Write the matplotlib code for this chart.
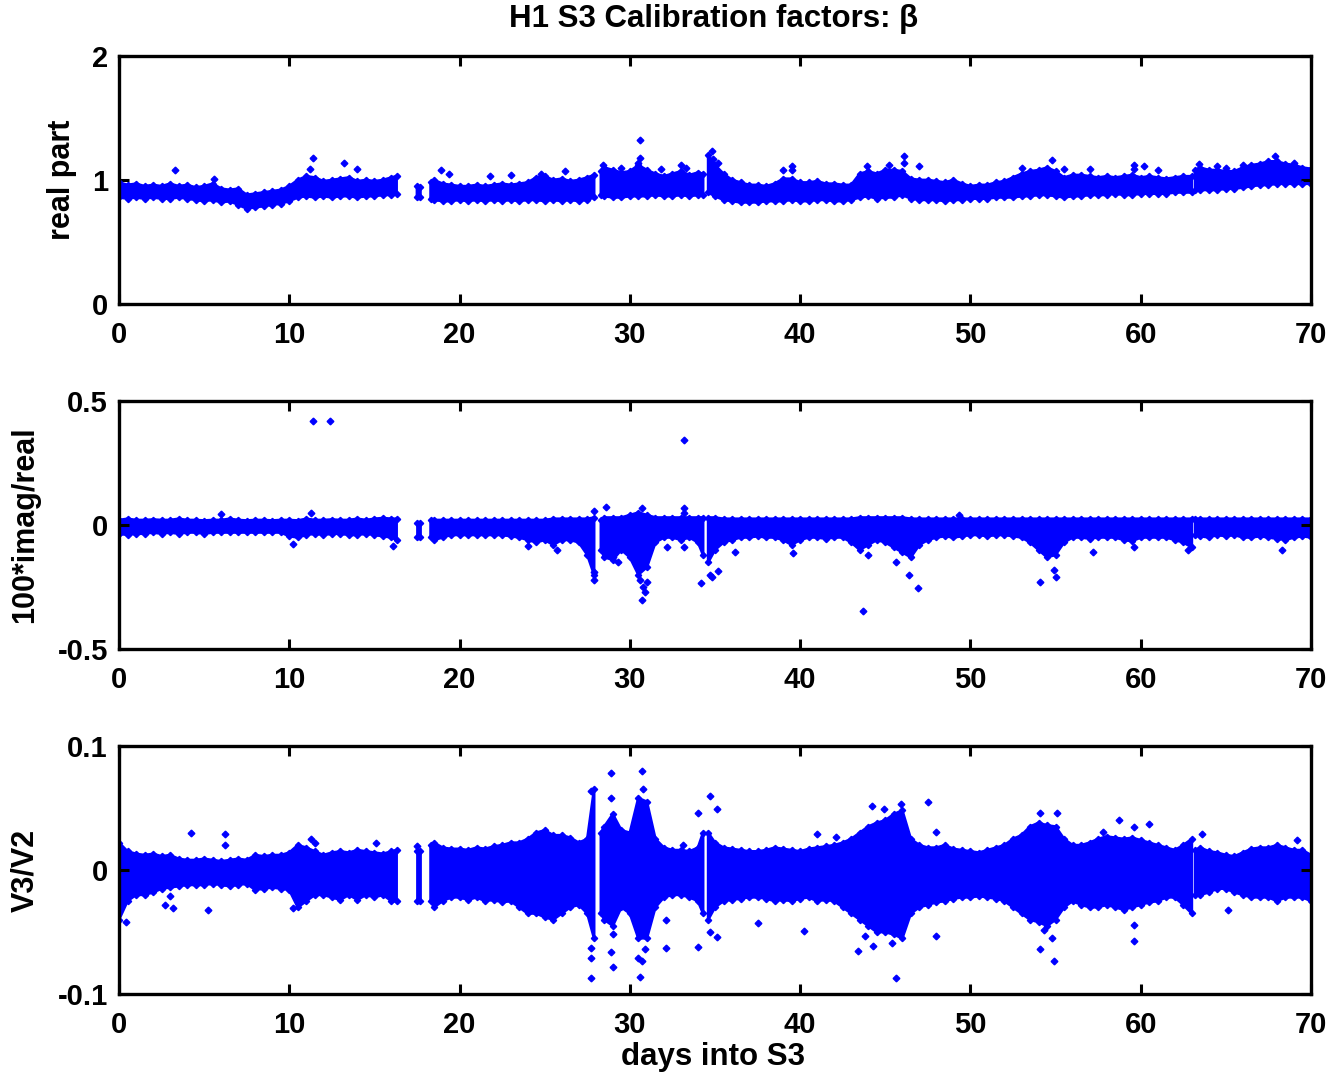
import numpy as np
import matplotlib
matplotlib.use("Agg")
import matplotlib.pyplot as plt

plt.rcParams['font.family'] = ['Liberation Sans', 'DejaVu Sans']

nan = np.nan
# sampling days of the band envelopes (nan = gap in the data)
days = [0, 0.5, 1, 1.5, 2, 2.5, 3, 3.5, 4, 4.5, 5, 5.5, 6, 6.5, 7, 7.5, 8, 8.5, 9, 9.5,
        10, 10.5, 11, 11.5, 12, 12.5, 13, 13.5, 14, 14.5, 15, 15.5, 16, 16.3, nan,
        17.5, 17.7, nan,
        18.3, 18.5, 19, 19.5, 20, 20.5, 21, 21.5, 22, 22.5, 23, 23.5, 24, 24.5, 25, 25.5,
        26, 26.5, 27, 27.5, 27.9, nan,
        28.3, 28.5, 29, 29.5, 30, 30.5, 31, 31.5, 32, 32.5, 33, 33.5, 34, 34.3, nan,
        34.6, 35, 35.5, 36, 36.5, 37, 37.5, 38, 38.5, 39, 39.5, 40, 40.5, 41, 41.5, 42,
        42.5, 43, 43.5, 44, 44.5, 45, 45.5, 46, 46.5, 47, 47.5, 48, 48.5, 49, 49.5, 50,
        50.5, 51, 51.5, 52, 52.5, 53, 53.5, 54, 54.5, 55, 55.5, 56, 56.5, 57, 57.5, 58,
        58.5, 59, 59.5, 60, 60.5, 61, 61.5, 62, 62.5, 63, nan,
        63.2, 63.5, 64, 64.5, 65, 65.5, 66, 66.5, 67, 67.5, 68, 68.5, 69, 69.5, 70]

# ---- real part: upper / lower envelope of the dense point cloud
real_top = [0.98, 0.96, 0.97, 0.95, 0.96, 0.95, 0.97, 0.95, 0.96, 0.94, 0.95, 0.97, 0.93, 0.92, 0.93, 0.88, 0.89, 0.90, 0.91, 0.92,
            0.95, 1.00, 1.03, 1.02, 0.99, 1.00, 1.01, 1.02, 0.99, 1.00, 0.99, 1.00, 1.02, 1.03, nan,
            0.95, 0.94, nan,
            0.98, 1.00, 0.97, 0.96, 0.95, 0.95, 0.96, 0.95, 0.96, 0.97, 0.96, 0.97, 0.98, 1.02, 1.03, 1.00,
            1.01, 0.99, 1.00, 1.02, 1.04, nan,
            1.07, 1.10, 1.08, 1.06, 1.07, 1.12, 1.08, 1.05, 1.03, 1.05, 1.07, 1.04, 1.06, 1.05, nan,
            1.20, 1.12, 1.05, 1.00, 0.98, 0.96, 0.96, 0.95, 0.97, 1.01, 1.01, 0.98, 0.98, 0.99, 0.97, 0.97,
            0.96, 0.96, 1.05, 1.07, 1.05, 1.08, 1.08, 1.07, 1.01, 1.00, 1.00, 0.99, 0.98, 1.00, 0.97, 0.95,
            0.96, 0.96, 0.98, 0.99, 1.02, 1.05, 1.07, 1.08, 1.10, 1.07, 1.02, 1.04, 1.04, 1.03, 1.02, 1.03,
            1.02, 1.03, 1.04, 1.02, 1.03, 1.02, 1.01, 1.02, 1.03, 1.03, nan,
            1.08, 1.10, 1.08, 1.08, 1.07, 1.07, 1.10, 1.12, 1.13, 1.15, 1.15, 1.13, 1.12, 1.10, 1.09]
real_bot = [0.86, 0.85, 0.86, 0.85, 0.86, 0.85, 0.85, 0.86, 0.85, 0.84, 0.83, 0.84, 0.82, 0.83, 0.80, 0.77, 0.78, 0.79, 0.80, 0.81,
            0.83, 0.86, 0.87, 0.86, 0.87, 0.86, 0.87, 0.87, 0.86, 0.87, 0.87, 0.88, 0.88, 0.89, nan,
            0.86, 0.86, nan,
            0.85, 0.84, 0.83, 0.83, 0.84, 0.83, 0.84, 0.83, 0.84, 0.83, 0.84, 0.83, 0.84, 0.84, 0.83, 0.84,
            0.83, 0.84, 0.83, 0.84, 0.86, nan,
            0.88, 0.87, 0.86, 0.86, 0.87, 0.87, 0.87, 0.88, 0.87, 0.87, 0.88, 0.87, 0.88, 0.88, nan,
            0.90, 0.87, 0.84, 0.83, 0.82, 0.82, 0.82, 0.83, 0.83, 0.83, 0.84, 0.83, 0.83, 0.84, 0.84, 0.83,
            0.83, 0.84, 0.86, 0.87, 0.85, 0.86, 0.86, 0.88, 0.85, 0.84, 0.84, 0.84, 0.83, 0.84, 0.84, 0.85,
            0.85, 0.85, 0.86, 0.86, 0.86, 0.87, 0.87, 0.88, 0.88, 0.87, 0.86, 0.87, 0.87, 0.88, 0.88, 0.88,
            0.89, 0.88, 0.88, 0.89, 0.89, 0.89, 0.89, 0.90, 0.90, 0.90, nan,
            0.92, 0.92, 0.92, 0.92, 0.93, 0.93, 0.94, 0.95, 0.96, 0.96, 0.97, 0.97, 0.97, 0.97, 0.97]
real_out_day = [3.3, 5.6, 11.2, 11.4, 13.2, 14.0, 18.9, 19.4, 21.8, 23.0, 24.8, 26.2, 28.4, 29.5, 30.5,
                30.6, 30.6, 31.8, 33.0, 33.3, 34.8, 34.9, 35.2, 39.0, 39.5, 39.5, 43.9, 45.2, 46.1,
                46.1, 47.0, 53.0, 54.8, 55.5, 57.0, 59.6, 59.6, 60.2, 61.0, 63.4, 64.5, 65.0, 66.0,
                67.9, 69.0]
real_out_val = [1.08, 1.01, 1.09, 1.18, 1.14, 1.09, 1.08, 1.05, 1.03, 1.04, 1.05, 1.07, 1.12, 1.10, 1.14,
                1.32, 1.18, 1.09, 1.12, 1.10, 1.23, 1.17, 1.14, 1.08, 1.11, 1.08, 1.11, 1.12, 1.19,
                1.14, 1.11, 1.10, 1.16, 1.09, 1.09, 1.12, 1.09, 1.11, 1.08, 1.13, 1.11, 1.10, 1.12,
                1.19, 1.14]

# ---- 100*imag/real
imag_top = [0.020, 0.025, 0.020, 0.020, 0.022, 0.020, 0.020, 0.025, 0.020, 0.020, 0.018, 0.020, 0.020, 0.025, 0.020, 0.018, 0.020, 0.020, 0.018, 0.020,
            0.020, 0.018, 0.025, 0.020, 0.020, 0.022, 0.020, 0.020, 0.025, 0.020, 0.025, 0.028, 0.025, 0.025, nan,
            0.010, 0.010, nan,
            0.020, 0.020, 0.020, 0.020, 0.020, 0.020, 0.020, 0.020, 0.020, 0.020, 0.020, 0.020, 0.020, 0.020, 0.020, 0.025,
            0.025, 0.025, 0.025, 0.025, 0.030, nan,
            0.020, 0.030, 0.030, 0.030, 0.040, 0.050, 0.040, 0.030, 0.030, 0.030, 0.030, 0.030, 0.030, 0.030, nan,
            0.030, 0.030, 0.025, 0.025, 0.025, 0.025, 0.025, 0.025, 0.025, 0.025, 0.025, 0.025, 0.025, 0.025, 0.025, 0.025,
            0.025, 0.025, 0.030, 0.030, 0.030, 0.030, 0.030, 0.030, 0.025, 0.025, 0.025, 0.025, 0.025, 0.025, 0.025, 0.025,
            0.025, 0.025, 0.025, 0.025, 0.025, 0.025, 0.025, 0.025, 0.025, 0.025, 0.025, 0.025, 0.025, 0.025, 0.025, 0.025,
            0.025, 0.025, 0.025, 0.025, 0.025, 0.025, 0.025, 0.025, 0.025, 0.025, nan,
            0.025, 0.025, 0.025, 0.025, 0.025, 0.025, 0.025, 0.025, 0.025, 0.025, 0.025, 0.025, 0.025, 0.025, 0.025]
imag_bot = [-0.035, -0.040, -0.035, -0.035, -0.030, -0.035, -0.030, -0.035, -0.030, -0.030, -0.035, -0.030, -0.030, -0.030, -0.030, -0.030, -0.030, -0.030, -0.030, -0.030,
            -0.045, -0.050, -0.040, -0.035, -0.040, -0.035, -0.035, -0.040, -0.040, -0.035, -0.040, -0.045, -0.050, -0.060, nan,
            -0.050, -0.050, nan,
            -0.050, -0.060, -0.050, -0.040, -0.040, -0.040, -0.040, -0.040, -0.040, -0.040, -0.045, -0.050, -0.060, -0.070, -0.060, -0.080,
            -0.060, -0.060, -0.070, -0.120, -0.200, nan,
            -0.100, -0.130, -0.140, -0.100, -0.130, -0.200, -0.170, -0.070, -0.050, -0.050, -0.060, -0.050, -0.070, -0.120, nan,
            -0.150, -0.100, -0.070, -0.060, -0.050, -0.050, -0.045, -0.050, -0.050, -0.060, -0.080, -0.060, -0.050, -0.050, -0.055, -0.050,
            -0.050, -0.070, -0.100, -0.080, -0.060, -0.070, -0.090, -0.110, -0.130, -0.080, -0.060, -0.050, -0.045, -0.050, -0.045, -0.040,
            -0.040, -0.045, -0.040, -0.040, -0.045, -0.050, -0.070, -0.100, -0.130, -0.120, -0.070, -0.050, -0.050, -0.055, -0.050, -0.050,
            -0.050, -0.060, -0.065, -0.050, -0.050, -0.050, -0.050, -0.060, -0.070, -0.090, nan,
            -0.040, -0.045, -0.050, -0.040, -0.045, -0.040, -0.050, -0.050, -0.045, -0.050, -0.055, -0.060, -0.050, -0.045, -0.050]
imag_out_day = [11.4, 12.4, 33.2, 43.7, 46.9, 46.4, 45.6, 54.1, 55.0, 54.9, 57.2, 59.6, 34.2, 34.8, 35.2,
                34.7, 30.7, 30.9, 30.8, 31.0, 30.6, 27.9, 27.9, 27.9, 28.6, 30.7, 33.2, 33.2, 49.3,
                6.0, 11.3, 10.2, 16.1, 24.0, 25.7, 29.3, 29.0, 32.2, 33.2, 39.6, 44.0, 36.2, 68.3, 62.8]
imag_out_val = [0.42, 0.42, 0.343, -0.347, -0.255, -0.20, -0.15, -0.23, -0.21, -0.18, -0.11, -0.09, -0.232, -0.21, -0.185,
                -0.20, -0.302, -0.27, -0.25, -0.23, -0.22, -0.19, -0.22, 0.056, 0.073, 0.069, 0.07, 0.05, 0.04,
                0.045, 0.05, -0.075, -0.085, -0.085, -0.10, -0.15, -0.13, -0.09, -0.09, -0.113, -0.12, -0.11, -0.10, -0.10]

# ---- V3/V2
v32_top = [0.022, 0.015, 0.013, 0.012, 0.013, 0.011, 0.012, 0.009, 0.008, 0.008, 0.009, 0.008, 0.007, 0.008, 0.009, 0.008, 0.012, 0.011, 0.012, 0.012,
           0.014, 0.020, 0.018, 0.015, 0.012, 0.014, 0.015, 0.014, 0.016, 0.015, 0.014, 0.013, 0.015, 0.016, nan,
           0.015, 0.015, nan,
           0.020, 0.022, 0.018, 0.017, 0.017, 0.016, 0.018, 0.017, 0.019, 0.020, 0.022, 0.022, 0.025, 0.030, 0.032, 0.028,
           0.028, 0.026, 0.022, 0.025, 0.065, nan,
           0.030, 0.035, 0.045, 0.032, 0.030, 0.058, 0.055, 0.025, 0.018, 0.016, 0.016, 0.015, 0.018, 0.030, nan,
           0.030, 0.022, 0.018, 0.017, 0.016, 0.015, 0.015, 0.016, 0.018, 0.017, 0.016, 0.015, 0.017, 0.018, 0.019, 0.020,
           0.022, 0.025, 0.030, 0.035, 0.038, 0.040, 0.045, 0.048, 0.025, 0.020, 0.018, 0.018, 0.020, 0.017, 0.016, 0.015,
           0.014, 0.016, 0.018, 0.020, 0.025, 0.028, 0.035, 0.038, 0.036, 0.035, 0.025, 0.020, 0.020, 0.022, 0.025, 0.027,
           0.026, 0.025, 0.026, 0.024, 0.022, 0.020, 0.018, 0.016, 0.020, 0.025, nan,
           0.016, 0.018, 0.015, 0.014, 0.012, 0.011, 0.014, 0.017, 0.018, 0.018, 0.020, 0.018, 0.016, 0.016, 0.012]
v32_bot = [-0.040, -0.025, -0.020, -0.020, -0.018, -0.015, -0.014, -0.013, -0.012, -0.012, -0.012, -0.011, -0.012, -0.013, -0.012, -0.011, -0.016, -0.015, -0.014, -0.015,
           -0.016, -0.030, -0.025, -0.020, -0.020, -0.022, -0.024, -0.020, -0.024, -0.020, -0.022, -0.020, -0.025, -0.025, nan,
           -0.025, -0.025, nan,
           -0.025, -0.030, -0.025, -0.022, -0.022, -0.024, -0.022, -0.025, -0.024, -0.026, -0.025, -0.030, -0.035, -0.035, -0.038, -0.040,
           -0.035, -0.030, -0.028, -0.035, -0.055, nan,
           -0.035, -0.040, -0.045, -0.030, -0.035, -0.055, -0.055, -0.030, -0.022, -0.020, -0.020, -0.022, -0.025, -0.035, nan,
           -0.040, -0.030, -0.025, -0.024, -0.023, -0.022, -0.022, -0.023, -0.025, -0.024, -0.025, -0.023, -0.022, -0.025, -0.024, -0.025,
           -0.030, -0.035, -0.040, -0.045, -0.050, -0.050, -0.052, -0.055, -0.035, -0.030, -0.028, -0.026, -0.025, -0.023, -0.022, -0.022,
           -0.021, -0.022, -0.023, -0.025, -0.030, -0.035, -0.040, -0.042, -0.045, -0.040, -0.030, -0.025, -0.028, -0.030, -0.030, -0.028,
           -0.030, -0.032, -0.030, -0.028, -0.026, -0.025, -0.022, -0.022, -0.028, -0.035, nan,
           -0.020, -0.020, -0.018, -0.015, -0.015, -0.018, -0.020, -0.022, -0.022, -0.022, -0.025, -0.022, -0.022, -0.022, -0.025]
v32_out_day = [4.2, 6.2, 6.2, 2.7, 3.0, 3.2, 5.2, 0.4, 10.2, 11.3, 11.5, 15.1, 17.5,
               27.7, 27.7, 27.7, 27.7, 28.9, 28.9, 29.0, 28.9, 29.0, 30.7, 30.8, 30.6, 30.7, 30.5, 30.9,
               32.1, 32.1, 33.1, 34.0, 34.0, 34.7, 35.1, 35.1, 34.7, 37.5, 40.2, 41.0, 42.1,
               44.2, 44.9, 45.9, 47.5, 45.6, 43.4, 44.3, 43.8, 45.4, 45.8, 48.0, 48.0,
               54.1, 55.1, 54.1, 54.9, 54.3, 54.8, 58.7, 59.6, 60.5, 59.6, 59.6, 57.8, 63.6, 69.2, 65.1]
v32_out_val = [0.030, 0.029, 0.020, -0.028, -0.021, -0.031, -0.032, -0.042, -0.031, 0.025, 0.022, 0.022, 0.019,
               0.064, -0.087, -0.063, -0.071, 0.078, 0.058, -0.078, -0.066, -0.052, 0.080, 0.065, -0.086, -0.073, -0.071, -0.064,
               -0.063, -0.040, 0.020, -0.062, 0.046, 0.060, 0.049, -0.054, -0.050, -0.043, -0.049, 0.029, 0.027,
               0.052, 0.049, 0.053, 0.055, -0.087, -0.065, -0.061, -0.053, -0.059, -0.052, -0.053, 0.031,
               0.046, 0.046, -0.064, -0.073, -0.048, -0.055, 0.040, 0.035, 0.037, -0.044, -0.057, 0.031, 0.029, 0.024, -0.032]

panels = [
    dict(top=real_top, bot=real_bot, od=real_out_day, ov=real_out_val,
         ylim=(0, 2), yticks=[0, 1, 2], yticklabels=['0', '1', '2'], label='real part'),
    dict(top=imag_top, bot=imag_bot, od=imag_out_day, ov=imag_out_val,
         ylim=(-0.5, 0.5), yticks=[-0.5, 0, 0.5], yticklabels=['-0.5', '0', '0.5'], label='100*imag/real'),
    dict(top=v32_top, bot=v32_bot, od=v32_out_day, ov=v32_out_val,
         ylim=(-0.1, 0.1), yticks=[-0.1, 0, 0.1], yticklabels=['-0.1', '0', '0.1'], label='V3/V2'),
]

W, H = 1334, 1078
fig = plt.figure(figsize=(W / 100, H / 100), dpi=100)
left, right = 119 / W, 1311 / W
tops_px = [56, 401, 746]
bots_px = [304, 649, 994]
label_x_px = [62, 25, 25]
blue = (0, 0, 1)

x = np.array(days, dtype=float)
for p, tp, bp, lx in zip(panels, tops_px, bots_px, label_x_px):
    ax = fig.add_axes([left, 1 - bp / H, right - left, (bp - tp) / H])
    t = np.array(p['top'], dtype=float)
    b = np.array(p['bot'], dtype=float)
    ok = ~np.isnan(x)
    ax.fill_between(x, b, t, where=ok, color=blue, lw=2, edgecolor=blue)
    # envelope samples drawn as markers give the ragged edge of the point cloud
    ax.plot(x, t, ls='none', marker='D', ms=3.2, color=blue)
    ax.plot(x, b, ls='none', marker='D', ms=3.2, color=blue)
    ax.plot(p['od'], p['ov'], ls='none', marker='D', ms=3.4, color=blue, mec=blue)
    ax.set_xlim(0, 70)
    ax.set_ylim(*p['ylim'])
    ax.set_xticks(range(0, 71, 10))
    ax.set_yticks(p['yticks'])
    ax.set_yticklabels(p['yticklabels'])
    ax.tick_params(direction='in', length=7, width=2.2, labelsize=21, pad=8,
                   top=True, right=True)
    ax.tick_params(axis='x', pad=12)
    for lab in ax.get_xticklabels() + ax.get_yticklabels():
        lab.set_fontweight('bold')
    for s in ax.spines.values():
        s.set_linewidth(2.4)
    fig.text(lx / W, 1 - (tp + bp) / 2 / H, p['label'], rotation=90, ha='center', va='center',
             fontsize=22, fontweight='bold')

fig.text(714 / W, 1 - 19 / H, 'H1 S3 Calibration factors: β', ha='center', va='center',
         fontsize=22.5, fontweight='bold')
fig.text(713 / W, 1 - 1057 / H, 'days into S3', ha='center', va='center', fontsize=22.5, fontweight='bold')

fig.savefig('out.png', dpi=100)
